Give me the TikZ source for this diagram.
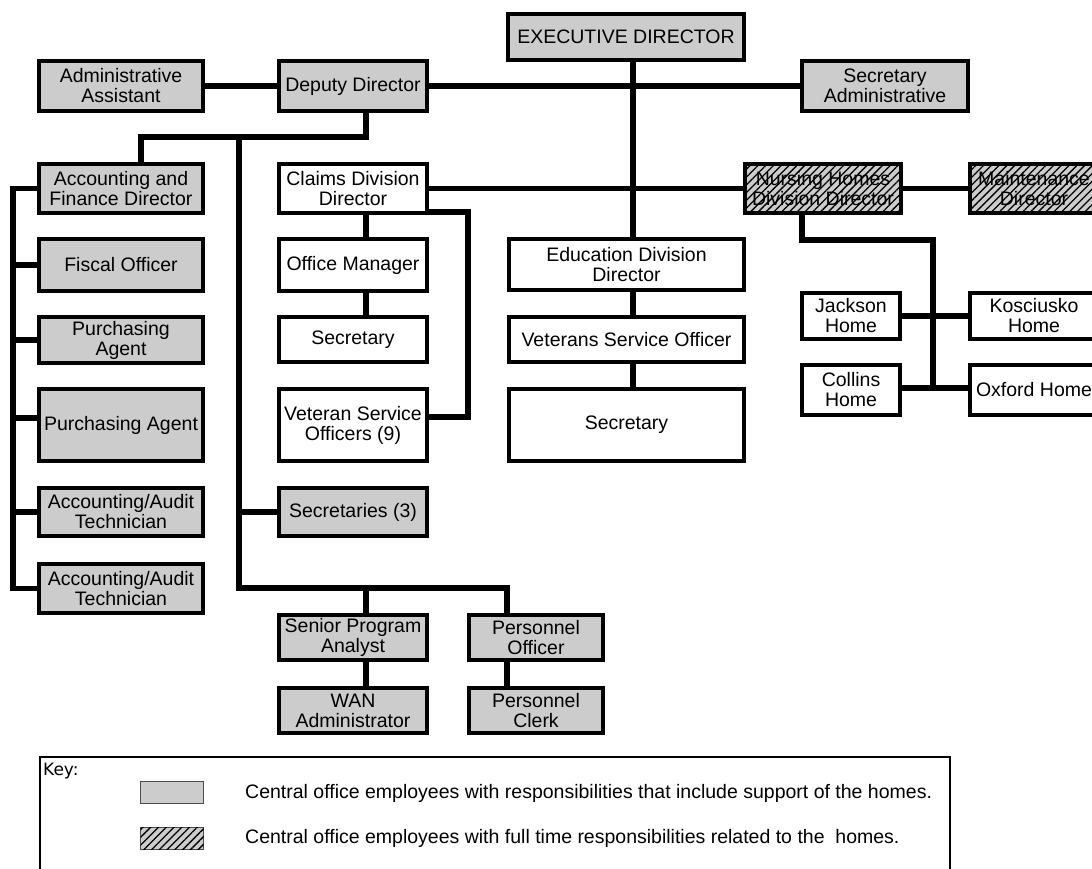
\documentclass[tikz,border=0pt]{standalone}
\usepackage{fontspec}
\setmainfont{Liberation Sans}
\newfontfamily\keyfont{DejaVu Sans}
\usetikzlibrary{calc,patterns.meta}
\definecolor{boxgray}{RGB}{204,204,204}
\tikzset{
  bx/.style={draw, line width=4pt, align=center, inner sep=0pt, font=\fontsize{19.5}{20}\selectfont},
  gbox/.style={bx, fill=boxgray},
  wbox/.style={bx, fill=white},
  hbox/.style={bx, fill=boxgray, postaction={pattern color=black, pattern={Lines[angle=45,distance=5.5pt,line width=1.3pt]}}},
  conn/.style={line width=5.5pt},
  sz/.style 2 args={minimum width=#1pt, minimum height=#2pt},
  keytext/.style={anchor=west, inner sep=0pt, font=\fontsize{19.5}{20}\selectfont},
}
\begin{document}
\begin{tikzpicture}[x=1pt,y=-1pt]
\useasboundingbox (0,0) rectangle (1092,869);
\clip (0,0) rectangle (1092,869);
% row 1
\node[gbox, sz={236}{46}] (exec) at (626,37) {EXECUTIVE DIRECTOR};
\node[gbox, sz={164}{50}] (adminasst) at (121,86) {Administrative\\Assistant};
\node[gbox, sz={148}{50}] (deputy) at (353,86) {Deputy Director};
\node[gbox, sz={166}{50}] (secadmin) at (885,86) {Secretary\\Administrative};
% row 2
\node[gbox, sz={164}{49}] (acct) at (121,188.5) {Accounting and\\Finance Director};
\node[wbox, sz={148}{49}] (claims) at (353,188.5) {Claims Division\\Director};
\node[hbox, sz={156}{49}] (nursing) at (823,188.5) {Nursing Homes\\Division Director};
\node[hbox, sz={129}{49}] (maint) at (1034,188.5) {Maintenance\\Director};
% left column
\node[gbox, sz={164}{52}] (fiscal) at (121,265) {Fiscal Officer};
\node[gbox, sz={164}{46}] (purch1) at (121,340) {Purchasing\\Agent};
\node[gbox, sz={164}{72}] (purch2) at (121,425) {Purchasing Agent};
\node[gbox, sz={164}{48}] (acaud1) at (121,512) {Accounting/Audit\\Technician};
\node[gbox, sz={164}{49}] (acaud2) at (121,588.5) {Accounting/Audit\\Technician};
% claims column
\node[wbox, sz={148}{52}] (offmgr) at (353,265) {Office Manager};
\node[wbox, sz={148}{45}] (clsec) at (353,339.5) {Secretary};
\node[wbox, sz={148}{72}] (vso9) at (353,425) {Veteran Service\\Officers (9)};
\node[gbox, sz={148}{48}] (sec3) at (353,512) {Secretaries (3)};
% education column
\node[wbox, sz={235}{51}] (edu) at (626.5,264.5) {Education Division\\Director};
\node[wbox, sz={235}{45}] (vsoedu) at (626.5,339.5) {Veterans Service Officer};
\node[wbox, sz={235}{72}] (secedu) at (626.5,425) {Secretary};
% homes
\node[wbox, sz={98}{46}] (jackson) at (851,316) {Jackson\\Home};
\node[wbox, sz={128}{46}] (kosc) at (1034,316) {Kosciusko\\Home};
\node[wbox, sz={98}{50}] (collins) at (851,390) {Collins\\Home};
\node[wbox, sz={128}{50}] (oxford) at (1034,390) {Oxford Home};
% bottom
\node[gbox, sz={148}{45}] (senior) at (353,637.5) {Senior Program\\Analyst};
\node[gbox, sz={134}{45}] (persoff) at (536,637.5) {Personnel\\Officer};
\node[gbox, sz={148}{45}] (wan) at (353,710.5) {WAN\\Administrator};
\node[gbox, sz={134}{45}] (persclerk) at (536,710.5) {Personnel\\Clerk};

% connectors
\draw[conn] (adminasst.east) -- (deputy.west);
\draw[conn] (deputy.east) -- (secadmin.west);
\draw[conn] ($(exec.south)+(7,0)$) -- ($(edu.north)+(6.5,0)$);
\draw[conn] ($(deputy.south)+(13,0)$) -- ++(0,24) -| ($(acct.north)+(20,0)$);
\coordinate (hb) at (239,137);
\draw[conn] (hb) |- ($(persoff.north)+(-29,-25)$) -- ($(persoff.north)+(-29,0)$);
\draw[conn] ($(senior.north)+(13,0)$) -- ++(0,-25);
\draw[conn] (sec3.west) -- ++(-38,0);
\draw[conn] (acct.west) -- ++(-24,0) |- (acaud2.west);
\draw[conn] (fiscal.west) -- ++(-24,0);
\draw[conn] (purch1.west) -- ++(-24,0);
\draw[conn] ($(purch2.west)+(0,-7)$) -- ++(-24,0);
\draw[conn] (acaud1.west) -- ++(-24,0);
\draw[conn] (claims.east) -- (nursing.west);
\draw[conn] (nursing.east) -- (maint.west);
\draw[conn] ($(claims.south east)+(0,-3)$) -- ++(39,0) |- ($(vso9.east)+(0,-8)$);
\draw[conn] ($(claims.south)+(13,0)$) -- ($(offmgr.north)+(13,0)$);
\draw[conn] ($(offmgr.south)+(13,0)$) -- ($(clsec.north)+(13,0)$);
\draw[conn] ($(edu.south)+(6.5,0)$) -- ($(vsoedu.north)+(6.5,0)$);
\draw[conn] ($(vsoedu.south)+(6.5,0)$) -- ($(secedu.north)+(6.5,0)$);
\draw[conn] ($(nursing.south)+(-21,0)$) -- ++(0,25) -| ($(collins.east)+(31,-2)$);
\draw[conn] (jackson.east) -- (kosc.west);
\draw[conn] ($(collins.east)+(0,-2)$) -- ($(oxford.west)+(0,-2)$);
\draw[conn] ($(senior.south)+(13,0)$) -- ($(wan.north)+(13,0)$);
\draw[conn] ($(persoff.south)+(-29,0)$) -- ($(persclerk.north)+(-29,0)$);

% key
\draw[line width=2.5pt] (40,890) -- (40,757) -- (950,757) -- (950,890);
\node[anchor=north west, inner sep=0pt, font=\keyfont\fontsize{17}{18}\selectfont] (keylabel) at (43,763) {Key:};
\node[draw=black!70, line width=1pt, fill=boxgray, minimum width=63pt, minimum height=22pt, inner sep=0pt] (kgray) at (172,792.5) {};
\node[draw=black!70, line width=1pt, fill=boxgray, minimum width=63pt, minimum height=22pt, inner sep=0pt,
  postaction={pattern color=black, pattern={Lines[angle=45,distance=5.5pt,line width=1.3pt]}}] (khatch) at (172,838.5) {};
\node[keytext] (kt1) at (245,793) {Central office employees with responsibilities that include support of the homes.};
\node[keytext] (kt2) at (245,838) {Central office employees with full time responsibilities related to the~ homes.};
\end{tikzpicture}
\end{document}
